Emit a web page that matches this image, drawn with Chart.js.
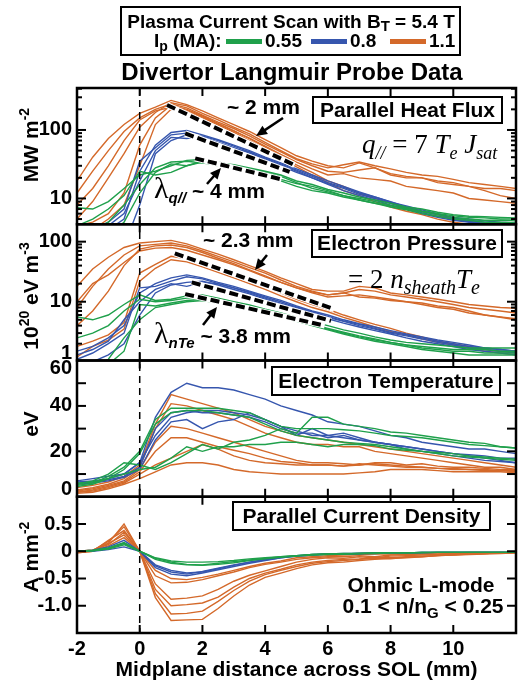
<!DOCTYPE html>
<html>
<head>
<meta charset="utf-8">
<script src="https://cdn.jsdelivr.net/npm/chart.js@4.4.0/dist/chart.umd.min.js"></script>
<style>
  html, body { margin: 0; padding: 0; background: #fff; }
</style>
</head>
<body>
<canvas id="probeChart" width="532" height="684"></canvas>
<script>
// midplane distance (mm)
const xs = [-2, -1.5, -1, -0.5, 0, 0.5, 1, 1.5, 2, 2.5, 3, 3.5, 4, 4.5, 5, 5.5, 6, 6.5, 7, 7.5, 8, 8.5, 9, 9.5, 10, 10.5, 11, 11.5, 12];

// parallel heat flux (MW m-2)
const qOrange = [
  [18, 40, 75, 120, 175, 215, 270, 235, 190, 150, 120, 95, 72, 55, 42, 35, 30, 28, 33, 28, 23, 21, 20, 18, 17, 15, 14, 14, 13],
  [12, 25, 50, 95, 150, 200, 240, 210, 165, 130, 105, 82, 62, 48, 37, 30, 25, 24, 26, 28, 22, 20, 20, 17, 16, 15, 13, 11, 10],
  [8, 14, 30, 70, 140, 190, 215, 195, 155, 122, 96, 76, 58, 44, 34, 27, 22, 23, 20, 19, 18, 15, 14, 13, 12, 10, 9.5, 9, 8.5],
  [4, 4.5, 6, 12, 60, 150, 230, 200, 160, 125, 98, 75, 56, 42, 31, 24, 18, 15, 12, 10, 8.5, 7.5, 6.5, 5.8, 5, 4.6, 4.3, 4.2, 4.1],
  [3, 3.5, 5, 8, 30, 120, 200, 185, 150, 118, 92, 70, 52, 39, 29, 22, 17, 13, 11, 9, 7.5, 6.5, 5.8, 5, 4.5, 4.2, 4, 3.8, 3.7],
  [5, 9, 20, 45, 110, 180, 250, 225, 175, 140, 110, 88, 66, 50, 38, 32, 28, 31, 34, 30, 27, 24, 22, 21, 19, 17, 16, 15, 14]
];
const qBlue = [
  [2, 2.5, 3.5, 5, 25, 60, 92, 98, 85, 72, 60, 50, 40, 33, 27, 22, 18, 15, 12.5, 10.5, 9, 7.5, 6.5, 5.8, 5.2, 4.8, 4.5, 4.3, 4.2],
  [3, 3.5, 4.5, 7, 35, 55, 85, 90, 78, 66, 55, 46, 38, 31, 25, 20, 16.5, 14, 11.5, 10, 8.5, 7.2, 6.2, 5.5, 5, 4.6, 4.3, 4.1, 4],
  [1, 1, 1.5, 2, 8, 45, 70, 85, 80, 65, 52, 48, 36, 30, 24, 20, 16, 13, 11, 9.5, 8, 7, 6, 5.3, 4.8, 4.5, 4.2, 4, 3.9],
  [2.5, 3, 4, 6, 18, 50, 78, 75, 82, 70, 58, 48, 39, 32, 26, 21, 17, 14.5, 12, 10.5, 8.8, 7.8, 6.8, 6, 5.3, 5, 4.7, 4.5, 4.4]
];
const qGreen = [
  [7.3, 7, 9, 14, 22, 25, 30, 36, 37, 33, 31, 28, 25, 22, 18, 16, 13.5, 12, 10.5, 9.5, 8.5, 7.5, 7, 6.3, 5.8, 5.5, 5.4, 5.3, 5.2],
  [4, 5, 7, 11, 25, 22, 24, 30, 35, 34, 30, 27, 24, 21, 17, 14, 12.5, 11, 9.5, 8.5, 7.8, 7, 6.4, 5.8, 5.3, 5, 4.8, 4.8, 4.7],
  [3, 3.5, 4.5, 8, 16, 28, 34, 35, 33, 31, 29, 26, 23, 19, 16.5, 15, 13, 11, 10, 9, 8, 7.2, 6.5, 6, 5.6, 5.3, 5.2, 5, 5],
  [2, 2.5, 3, 4.5, 12, 24, 32, 30, 34, 30, 28, 25, 22, 18, 15, 13, 12, 10.5, 9.5, 8.5, 7.5, 6.8, 6, 5.5, 5, 4.8, 4.5, 4.5, 4.4]
];

// electron pressure (10^20 eV m-3)
const peOrange = [
  [18, 35, 55, 80, 95, 100, 105, 92, 75, 62, 50, 40, 32, 25, 20, 16, 15, 15, 18, 17, 14, 13, 12, 11, 10, 9, 8.5, 8, 7.8],
  [8, 18, 35, 60, 85, 90, 95, 85, 70, 57, 46, 37, 30, 23, 18, 15, 13, 14, 16, 15, 13, 12, 11, 10, 9, 8, 7.5, 7, 6.5],
  [4, 7, 15, 40, 75, 85, 88, 80, 66, 53, 43, 34, 27, 21, 17, 14, 12, 12.5, 13, 12, 11, 10, 9, 8, 7.5, 6.5, 6, 5.5, 5],
  [1.8, 2.2, 2.8, 4.5, 30, 42, 57, 52, 43, 35, 28, 22, 18, 14, 11, 9, 7.5, 6, 5, 4.2, 3.6, 3, 2.6, 2.2, 2, 1.8, 1.6, 1.5, 1.4],
  [1.2, 1.8, 2.3, 3.5, 22, 36, 50, 46, 38, 31, 25, 20, 16, 12.5, 10, 8, 6.8, 5.5, 4.6, 3.8, 3.2, 2.8, 2.4, 2.1, 1.9, 1.7, 1.5, 1.4, 1.3],
  [10, 20, 28, 45, 70, 78, 80, 72, 60, 50, 41, 33, 26, 21, 17, 14.5, 13, 14, 12, 11.5, 10.5, 10, 9.5, 8.5, 8, 7, 6, 5.6, 5.2]
];
const peBlue = [
  [1.5, 1.8, 2.5, 4, 14, 20, 25, 28, 25, 21, 18, 15, 12.5, 10.5, 8.5, 7, 6, 5, 4.3, 3.8, 3.3, 2.9, 2.6, 2.3, 2.1, 1.9, 1.7, 1.6, 1.5],
  [1.1, 1.4, 2, 3, 17, 18, 22, 26, 24, 20, 17, 14, 11.5, 9.5, 8, 6.5, 5.5, 4.7, 4, 3.5, 3, 2.7, 2.4, 2.1, 1.9, 1.7, 1.6, 1.5, 1.4],
  [0.8, 1, 1.3, 2, 6, 14, 19, 21, 22, 19, 16, 13.5, 11, 9, 7.5, 6.2, 5.2, 4.4, 3.8, 3.3, 2.9, 2.5, 2.2, 2, 1.8, 1.6, 1.5, 1.4, 1.3],
  [1.3, 1.6, 2.2, 5, 10, 16, 20, 18, 21, 20, 17, 14.5, 12, 10, 8.2, 6.8, 5.7, 4.8, 4.2, 3.6, 3.1, 2.8, 2.5, 2.2, 2, 1.8, 1.7, 1.6, 1.5]
];
const peGreen = [
  [5.6, 5, 6, 9, 13, 10.5, 11, 12.5, 13, 11.5, 10, 8.8, 7.5, 6.5, 5.5, 4.6, 4, 3.4, 3, 2.6, 2.3, 2.1, 2, 1.9, 1.8, 1.7, 1.7, 1.7, 1.7],
  [2.5, 3, 4, 7, 11, 10, 10.5, 11.5, 12, 10.5, 9.2, 8, 7, 6, 5, 4.2, 3.6, 3.1, 2.7, 2.4, 2.1, 1.9, 1.7, 1.6, 1.5, 1.5, 1.4, 1.4, 1.4],
  [0.6, 0.7, 0.9, 1.5, 9, 8.5, 9.5, 10.5, 11, 10, 8.8, 7.7, 6.7, 5.8, 4.8, 4, 3.4, 2.9, 2.5, 2.2, 2, 1.8, 1.6, 1.5, 1.4, 1.3, 1.3, 1.3, 1.3],
  [0.7, 0.8, 1.1, 2.5, 5, 8, 9, 10, 10.5, 9.5, 8.5, 7.4, 6.5, 5.6, 4.7, 4.1, 3.5, 3, 2.6, 2.3, 2.1, 1.9, 1.8, 1.7, 1.6, 1.6, 1.6, 1.5, 1.5]
];

// electron temperature (eV)
const teOrange = [
  [4, 5, 6.5, 9, 14, 32, 45, 43, 41, 39, 37, 34, 31, 29, 27, 26, 25, 24, 23, 22, 21, 20, 19, 18, 17, 16, 15, 14, 13],
  [3, 4, 5.5, 8, 13, 30, 41, 40, 38, 36, 34, 31, 28, 26, 24, 23, 23, 22, 22, 20, 19, 18, 17, 16, 15, 14, 13, 13, 12],
  [2.5, 3.5, 5, 7, 12, 24, 31, 30, 28, 26, 24, 22, 20, 18, 16, 15, 15, 14.5, 14, 15, 15, 14, 14.5, 13.5, 13, 13, 12.5, 12, 12],
  [2, 3, 4.5, 6.5, 11, 20, 26, 26, 24, 22, 20.5, 19, 17, 15.5, 15, 14, 14, 13.5, 14.5, 14, 13.5, 13, 13, 12.5, 12.5, 12, 11.5, 11.5, 11],
  [2, 2.5, 4, 6, 10, 14, 17, 20, 23, 21, 18, 16, 15, 14.5, 14, 14, 14, 13.5, 14, 14.5, 14, 13.5, 13, 12.5, 12, 12, 12, 11.5, 11.5],
  [1.5, 2, 3.5, 5.5, 8, 11, 14, 15, 15, 14, 12, 11, 10.5, 10, 10, 10, 10, 10, 10.5, 11, 12, 12, 12, 11.5, 11, 11, 11, 11, 10.5]
];
const teBlue = [
  [7, 8, 9, 10, 15, 35, 46, 50, 48, 48, 47, 45, 43, 40, 38, 36, 33, 32, 31, 29, 27, 26, 24, 23, 22, 21, 21, 20, 19],
  [6.5, 7, 8, 10, 15, 27, 35, 37, 38, 38, 37, 36, 34, 31, 29, 27, 27, 26, 25, 24, 23, 22, 21, 20, 19, 18, 17, 16, 15],
  [6, 6.5, 7.5, 9, 13, 30, 37, 38, 37, 37, 36, 35, 33, 30, 28, 28, 26, 27, 25, 24, 23, 21, 20, 19, 18, 17, 16, 15.5, 15],
  [5.5, 6, 7, 8.5, 12, 25, 33, 34, 30, 33, 34, 37, 34, 31, 27, 30, 27, 28, 26, 24, 23, 22, 21, 20, 19, 18.5, 18, 17, 17]
];
const teGreen = [
  [5, 6, 9, 13, 20, 34, 39, 39, 39, 39, 38, 37, 34, 31, 30, 30, 30, 29.5, 29, 28, 27, 26.5, 26, 25, 24, 23, 22.5, 22, 21.5],
  [4.5, 5.5, 8, 12, 19, 32, 37, 38, 38, 37, 36, 35, 32, 29, 27, 26, 25, 24, 23.5, 23, 22, 21, 20, 19, 18, 17.5, 17, 16.5, 16],
  [5.5, 7, 10, 15, 14, 12, 15, 19, 23, 21, 24, 25, 27, 30, 28, 35, 35, 32, 31, 30, 28.5, 28, 27, 26, 25, 24, 23.5, 22, 21.5],
  [6, 6.5, 8, 10, 12, 13, 17, 22, 20, 22, 22, 23, 23, 24, 24, 23, 22, 23, 23, 22.5, 21, 20.5, 20, 19.5, 19, 18, 17.5, 17, 16.5]
];

// parallel current density (A mm-2)
const jOrange = [
  [0, 0.02, 0.15, 0.5, 0, -0.35, -0.5, -0.52, -0.48, -0.42, -0.35, -0.28, -0.22, -0.18, -0.12, -0.1, -0.08, -0.07, -0.06, -0.05, -0.05, -0.04, -0.04, -0.03, -0.03, -0.02, -0.02, -0.02, -0.02],
  [0, 0.02, 0.12, 0.35, 0, -0.45, -0.58, -0.57, -0.52, -0.45, -0.38, -0.3, -0.24, -0.2, -0.15, -0.12, -0.1, -0.1, -0.08, -0.1, -0.07, -0.06, -0.05, -0.05, -0.04, -0.03, -0.03, -0.02, -0.02],
  [-0.02, 0.01, 0.18, 0.45, 0, -0.6, -0.88, -0.86, -0.82, -0.7, -0.55, -0.44, -0.36, -0.28, -0.2, -0.15, -0.12, -0.13, -0.1, -0.12, -0.09, -0.08, -0.07, -0.06, -0.05, -0.04, -0.03, -0.03, -0.02],
  [-0.03, 0, 0.2, 0.38, 0, -0.7, -1.0, -0.98, -0.95, -0.84, -0.66, -0.5, -0.4, -0.33, -0.25, -0.2, -0.17, -0.15, -0.14, -0.12, -0.12, -0.1, -0.09, -0.08, -0.06, -0.05, -0.04, -0.03, -0.03],
  [-0.02, 0.01, 0.14, 0.3, 0, -0.78, -1.15, -1.14, -1.1, -0.92, -0.72, -0.55, -0.43, -0.35, -0.28, -0.22, -0.19, -0.17, -0.15, -0.13, -0.14, -0.11, -0.1, -0.08, -0.07, -0.05, -0.04, -0.03, -0.03],
  [-0.03, 0, 0.1, 0.25, 0, -0.85, -1.27, -1.26, -1.25, -1.05, -0.82, -0.62, -0.48, -0.4, -0.32, -0.25, -0.21, -0.2, -0.17, -0.15, -0.13, -0.12, -0.1, -0.08, -0.07, -0.06, -0.05, -0.04, -0.03]
];
const jBlue = [
  [0, 0.02, 0.08, 0.2, 0, -0.3, -0.42, -0.45, -0.4, -0.34, -0.28, -0.22, -0.17, -0.12, -0.09, -0.07, -0.05, -0.05, -0.04, -0.04, -0.03, -0.03, -0.03, -0.02, -0.02, -0.02, -0.02, -0.02, -0.02],
  [0, 0.01, 0.06, 0.15, 0, -0.27, -0.38, -0.42, -0.37, -0.31, -0.25, -0.2, -0.15, -0.11, -0.08, -0.06, -0.05, -0.04, -0.04, -0.03, -0.03, -0.03, -0.02, -0.02, -0.02, -0.02, -0.02, -0.02, -0.02],
  [0, 0, 0.03, 0.08, 0, -0.25, -0.35, -0.4, -0.38, -0.32, -0.26, -0.2, -0.16, -0.12, -0.09, -0.07, -0.05, -0.05, -0.04, -0.03, -0.03, -0.03, -0.02, -0.02, -0.02, -0.02, -0.02, -0.02, -0.02]
];
const jGreen = [
  [0, 0.01, 0.04, 0.12, 0, -0.12, -0.18, -0.2, -0.2, -0.19, -0.17, -0.14, -0.12, -0.1, -0.08, -0.06, -0.05, -0.04, -0.04, -0.03, -0.03, -0.03, -0.02, -0.02, -0.02, -0.02, -0.02, -0.02, -0.02],
  [0, 0.02, 0.06, 0.16, 0, -0.15, -0.22, -0.25, -0.26, -0.24, -0.21, -0.17, -0.14, -0.11, -0.09, -0.07, -0.06, -0.05, -0.04, -0.04, -0.03, -0.03, -0.03, -0.02, -0.02, -0.02, -0.02, -0.02, -0.02],
  [0, 0.01, 0.05, 0.14, 0, -0.13, -0.2, -0.24, -0.25, -0.22, -0.19, -0.16, -0.13, -0.1, -0.08, -0.06, -0.05, -0.05, -0.04, -0.03, -0.03, -0.03, -0.02, -0.02, -0.02, -0.02, -0.02, -0.02, -0.02]
];

// exponential fit segments [x0, y0, x1, y1]: orange, blue, green
const qFits = [[0.87, 232, 4.94, 30.7], [1.45, 89, 4.78, 24.5], [1.77, 38.5, 4.52, 19]];
const peFits = [[1.12, 64, 6.2, 7.5], [1.66, 21, 6.1, 4.8], [1.45, 13.4, 5.9, 4.0]];

// y tick labels per panel
const qTicks = [10, 100];
const peTicks = [1, 10, 100];
const teTicks = [0, 20, 40, 60];
const jTicks = [-1.0, -0.5, 0, 0.5];

const ORANGE = '#d4692a';
const BLUE = '#3656ae';
const GREEN = '#1fa04b';
const SANS = "'Liberation Sans', Arial, Helvetica, sans-serif";
const SERIF = "'Liberation Serif', 'Times New Roman', serif";

function group(sets, color, axis, order) {
  return sets.map(ys => ({
    data: ys.map((y, i) => ({ x: xs[i], y: y })),
    borderColor: color,
    borderWidth: 1.4,
    pointRadius: 0,
    yAxisID: axis,
    order: order
  }));
}

function fitLines(list, axis) {
  const out = [];
  list.forEach(f => {
    const pts = [{ x: f[0], y: f[1] }, { x: f[2], y: f[3] }];
    out.push({ data: pts, borderColor: '#fff', borderWidth: 6, pointRadius: 0, yAxisID: axis, order: 1 });
    out.push({ data: pts, borderColor: '#000', borderWidth: 4, borderDash: [9, 4], pointRadius: 0, yAxisID: axis, order: 0 });
  });
  return out;
}

const datasets = [].concat(
  group(qOrange, ORANGE, 'yQ', 4), group(qBlue, BLUE, 'yQ', 3), group(qGreen, GREEN, 'yQ', 2), fitLines(qFits, 'yQ'),
  group(peOrange, ORANGE, 'yPe', 4), group(peBlue, BLUE, 'yPe', 3), group(peGreen, GREEN, 'yPe', 2), fitLines(peFits, 'yPe'),
  group(teOrange, ORANGE, 'yTe', 4), group(teBlue, BLUE, 'yTe', 3), group(teGreen, GREEN, 'yTe', 2),
  group(jOrange, ORANGE, 'yJ', 4), group(jBlue, BLUE, 'yJ', 3), group(jGreen, GREEN, 'yJ', 2)
);

// panel decoration info (ticks, labels)
const panels = [
  { id: 'yQ', labels: qTicks, major: [10, 100], minor: [5, 6, 7, 8, 9, 20, 30, 40, 50, 60, 70, 80, 90, 200, 300, 400] },
  { id: 'yPe', labels: peTicks, major: [10, 100], minor: [2, 3, 4, 5, 6, 7, 8, 9, 20, 30, 40, 50, 60, 70, 80, 90] },
  { id: 'yTe', labels: teTicks, major: [10, 20, 30, 40, 50], minor: [] },
  { id: 'yJ', labels: jTicks, major: [-1.0, -0.5, 0, 0.5], minor: [] }
];

function line(ctx, x1, y1, x2, y2) {
  ctx.beginPath();
  ctx.moveTo(x1, y1);
  ctx.lineTo(x2, y2);
  ctx.stroke();
}

function runs(ctx, parts, x, y, align) {
  let w = 0;
  parts.forEach(p => { ctx.font = p.f; p.w = ctx.measureText(p.t).width; w += p.w; });
  let cx = align === 'center' ? x - w / 2 : x;
  ctx.textAlign = 'left';
  ctx.textBaseline = 'alphabetic';
  parts.forEach(p => { ctx.font = p.f; ctx.fillText(p.t, cx, y + (p.dy || 0)); cx += p.w; });
}

function boxLabel(ctx, text, cx, cy, w, h) {
  ctx.fillStyle = '#fff';
  ctx.fillRect(cx - w / 2, cy - h / 2, w, h);
  ctx.lineWidth = 2;
  ctx.strokeStyle = '#000';
  ctx.strokeRect(cx - w / 2, cy - h / 2, w, h);
  ctx.fillStyle = '#000';
  ctx.font = 'bold 21px ' + SANS;
  ctx.textAlign = 'center';
  ctx.textBaseline = 'middle';
  ctx.fillText(text, cx, cy + 1);
}

function arrow(ctx, x1, y1, x2, y2) {
  const ang = Math.atan2(y2 - y1, x2 - x1);
  ctx.lineWidth = 2.5;
  line(ctx, x1, y1, x2 - 7 * Math.cos(ang), y2 - 7 * Math.sin(ang));
  ctx.beginPath();
  ctx.moveTo(x2, y2);
  ctx.lineTo(x2 - 11 * Math.cos(ang) + 5 * Math.sin(ang), y2 - 11 * Math.sin(ang) - 5 * Math.cos(ang));
  ctx.lineTo(x2 - 11 * Math.cos(ang) - 5 * Math.sin(ang), y2 - 11 * Math.sin(ang) + 5 * Math.cos(ang));
  ctx.closePath();
  ctx.fill();
}

function vTitle(ctx, parts, x, cy) {
  ctx.save();
  ctx.translate(x, cy);
  ctx.rotate(-Math.PI / 2);
  runs(ctx, parts, 0, 0, 'center');
  ctx.restore();
}

const B = sz => 'bold ' + sz + 'px ' + SANS;

const decor = {
  id: 'decor',
  beforeDatasetDraw(chart, args) {
    const ys = chart.scales[args.meta.yAxisID];
    const a = chart.chartArea;
    chart.ctx.save();
    chart.ctx.beginPath();
    chart.ctx.rect(a.left, ys.top, a.right - a.left, ys.bottom - ys.top);
    chart.ctx.clip();
  },
  afterDatasetDraw(chart) {
    chart.ctx.restore();
  },
  afterDatasetsDraw(chart) {
    const ctx = chart.ctx;
    const a = chart.chartArea;
    const sx = chart.scales.x;
    ctx.save();
    ctx.strokeStyle = '#000';
    ctx.fillStyle = '#000';

    // separatrix
    const x0 = sx.getPixelForValue(0);
    ctx.lineWidth = 1.5;
    ctx.setLineDash([7, 5]);
    line(ctx, x0, a.top, x0, a.bottom);
    ctx.setLineDash([]);

    panels.forEach(p => {
      const s = chart.scales[p.id];
      ctx.lineWidth = 2;
      const inRange = v => v > s.min && v < s.max;
      p.major.filter(inRange).forEach(v => {
        const py = s.getPixelForValue(v);
        line(ctx, a.left, py, a.left + 9, py);
        line(ctx, a.right, py, a.right - 9, py);
      });
      p.minor.filter(inRange).forEach(v => {
        const py = s.getPixelForValue(v);
        line(ctx, a.left, py, a.left + 5, py);
        line(ctx, a.right, py, a.right - 5, py);
      });
      [0, 2, 4, 6, 8, 10].forEach(v => {
        const px = sx.getPixelForValue(v);
        line(ctx, px, s.top, px, s.top + 8);
        line(ctx, px, s.bottom, px, s.bottom - 8);
      });
      ctx.lineWidth = 2.5;
      ctx.strokeRect(a.left, s.top, a.right - a.left, s.bottom - s.top);

      ctx.font = B(20);
      ctx.textAlign = 'right';
      ctx.textBaseline = 'middle';
      p.labels.forEach(v => {
        let py = s.getPixelForValue(v);
        py = Math.min(Math.max(py, s.top + 8), s.bottom - 7);
        const txt = p.id === 'yJ' && v === -1 ? '-1.0' : String(v);
        ctx.fillText(txt, 72, py);
      });
    });

    // y axis titles
    vTitle(ctx, [{ t: 'MW m', f: B(21) }, { t: '-2', f: B(14), dy: -9 }], 38, 145);
    vTitle(ctx, [{ t: '10', f: B(21) }, { t: '20', f: B(14), dy: -9 }, { t: ' eV m', f: B(21) }, { t: '-3', f: B(14), dy: -9 }], 38, 296);
    vTitle(ctx, [{ t: 'eV', f: B(21) }], 38, 424);
    vTitle(ctx, [{ t: 'A mm', f: B(21) }, { t: '-2', f: B(14), dy: -9 }], 38, 557);

    // panel boxes
    boxLabel(ctx, 'Parallel Heat Flux', 407.5, 110, 189, 26);
    boxLabel(ctx, 'Electron Pressure', 407, 243.5, 190, 27);
    boxLabel(ctx, 'Electron Temperature', 386, 381, 228, 28);
    boxLabel(ctx, 'Parallel Current Density', 361.5, 516, 257, 28);

    // formulas
    const SI = sz => 'italic ' + sz + 'px ' + SERIF;
    runs(ctx, [
      { t: 'q', f: SI(27) }, { t: '//', f: SI(18), dy: 6 }, { t: ' = 7 ', f: '27px ' + SERIF },
      { t: 'T', f: SI(27) }, { t: 'e', f: SI(18), dy: 6 }, { t: ' J', f: SI(27) }, { t: 'sat', f: SI(18), dy: 6 }
    ], 362, 153, 'left');
    runs(ctx, [
      { t: '= 2 ', f: '27px ' + SERIF }, { t: 'n', f: SI(27) }, { t: 'sheath', f: SI(20), dy: 6 },
      { t: 'T', f: SI(27) }, { t: 'e', f: SI(20), dy: 6 }
    ], 348, 288, 'left');

    // decay-length annotations
    ctx.fillStyle = '#000';
    runs(ctx, [{ t: '~ 2 mm', f: B(21) }], 227, 114, 'left');
    runs(ctx, [{ t: '~ 2.3 mm', f: B(21) }], 203, 247, 'left');
    runs(ctx, [{ t: '\u03bb', f: '30px ' + SERIF }, { t: 'q//', f: 'bold italic 15px ' + SANS, dy: 5 }, { t: ' ~ 4 mm', f: B(21) }], 154, 198, 'left');
    runs(ctx, [{ t: '\u03bb', f: '30px ' + SERIF }, { t: 'nTe', f: 'bold italic 15px ' + SANS, dy: 5 }, { t: ' ~ 3.8 mm', f: B(21) }], 154, 343, 'left');
    ctx.strokeStyle = '#000';
    arrow(ctx, 283, 118, 256, 136);
    arrow(ctx, 207, 184, 221, 168);
    arrow(ctx, 267, 255, 255, 270);
    arrow(ctx, 203, 325, 217, 307);

    // regime note
    runs(ctx, [{ t: 'Ohmic L-mode', f: B(21) }], 421, 592, 'center');
    runs(ctx, [{ t: '0.1 < n/n', f: B(21) }, { t: 'G', f: B(15), dy: 5 }, { t: ' < 0.25', f: B(21) }], 423, 613, 'center');

    // legend box and title
    ctx.lineWidth = 2;
    ctx.strokeRect(121, 7, 339, 48);
    runs(ctx, [{ t: 'Plasma Current Scan with B', f: B(19) }, { t: 'T', f: B(15), dy: 3 }, { t: ' = 5.4 T', f: B(19) }], 291, 28, 'center');
    runs(ctx, [{ t: 'I', f: B(19) }, { t: 'p', f: B(14), dy: 4 }, { t: ' (MA):', f: B(19) }], 154, 47, 'left');
    ctx.lineWidth = 5;
    [[226, GREEN, '0.55'], [311, BLUE, '0.8'], [390, ORANGE, '1.1']].forEach(e => {
      ctx.strokeStyle = e[1];
      line(ctx, e[0], 41.5, e[0] + 36, 41.5);
      ctx.fillStyle = '#000';
      runs(ctx, [{ t: e[2], f: B(19) }], e[0] + 39, 47, 'left');
    });
    ctx.fillStyle = '#000';
    runs(ctx, [{ t: 'Divertor Langmuir Probe Data', f: B(24) }], 292, 80, 'center');
    ctx.restore();
  }
};

const yBase = {
  position: 'left',
  stack: 'panels',
  stackWeight: 1,
  offset: false,
  grid: { display: false, drawTicks: false },
  border: { display: false },
  ticks: { display: false },
  afterFit: s => { s.width = 77; }
};

new Chart(document.getElementById('probeChart').getContext('2d'), {
  type: 'line',
  data: { datasets: datasets },
  options: {
    responsive: false,
    devicePixelRatio: 1,
    animation: false,
    events: [],
    layout: { padding: { top: 88, right: 16, left: 0, bottom: 0 } },
    plugins: { legend: { display: false }, tooltip: { enabled: false } },
    scales: {
      x: {
        type: 'linear', min: -2, max: 12,
        grid: { display: false, drawTicks: false },
        border: { display: false },
        ticks: {
          stepSize: 2, autoSkip: false, maxRotation: 0, padding: 4, color: '#000',
          font: { family: SANS, size: 20, weight: 'bold' },
          callback: v => (v === 12 ? '' : String(v))
        },
        title: {
          display: true, text: 'Midplane distance across SOL (mm)', color: '#000',
          font: { family: SANS, size: 21, weight: 'bold' }, padding: { top: 0, bottom: 1 }
        },
        afterFit: s => { s.height = 51; }
      },
      yJ: Object.assign({}, yBase, { type: 'linear', min: -1.5, max: 1.0, weight: 1 }),
      yTe: Object.assign({}, yBase, { type: 'linear', min: 0, max: 60, weight: 2 }),
      yPe: Object.assign({}, yBase, { type: 'logarithmic', min: 1.05, max: 195, weight: 3 }),
      yQ: Object.assign({}, yBase, { type: 'logarithmic', min: 4.2, max: 410, weight: 4 })
    }
  },
  plugins: [decor]
});
</script>
</body>
</html>
